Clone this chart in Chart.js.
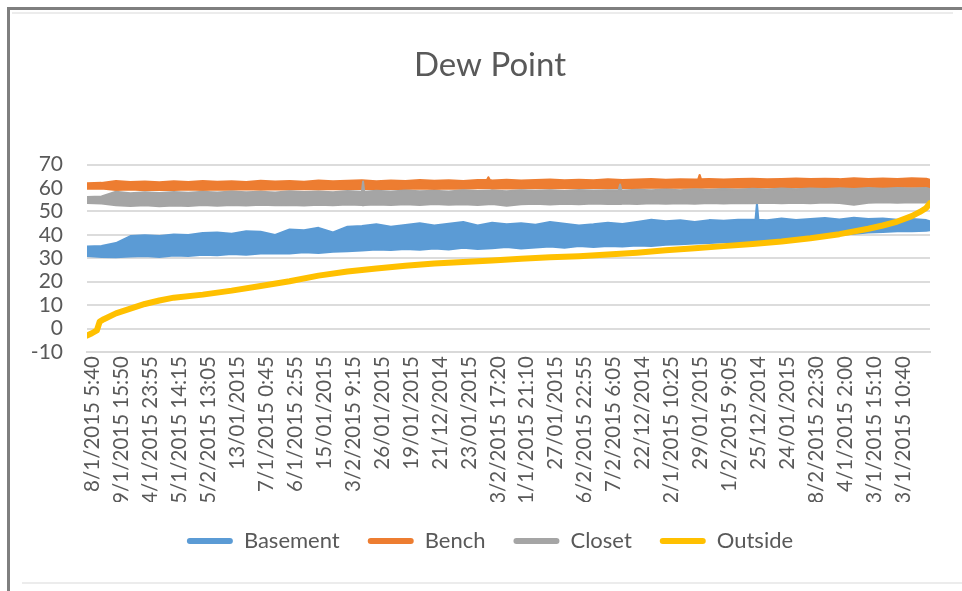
<!DOCTYPE html>
<html>
<head>
<meta charset="utf-8">
<script src="https://cdn.jsdelivr.net/npm/chart.js@4"></script>
<style>
  html, body { margin: 0; padding: 0; background: #fff; }
  canvas { display: block; }
</style>
</head>
<body>
<canvas id="dew" width="962" height="591"></canvas>
<script>
// Category labels shown under the time axis (one per label slot)
const tickLabels = [
  '8/1/2015 5:40', '9/1/2015 15:50', '4/1/2015 23:55', '5/1/2015 14:15', '5/2/2015 13:05',
  '13/01/2015', '7/1/2015 0:45', '6/1/2015 2:55', '15/01/2015', '3/2/2015 9:15',
  '26/01/2015', '19/01/2015', '21/12/2014', '23/01/2015', '3/2/2015 17:20',
  '1/1/2015 21:10', '27/01/2015', '6/2/2015 22:55', '7/2/2015 6:05', '22/12/2014',
  '2/1/2015 10:25', '29/01/2015', '1/2/2015 9:05', '25/12/2014', '24/01/2015',
  '8/2/2015 22:30', '4/1/2015 2:00', '3/1/2015 15:10', '3/1/2015 10:40'
];

// Reading positions, in label-slot units (0 = first label)
const basementPos = [-0.2, 0.3, 0.8, 1.3, 1.8, 2.3, 2.8, 3.3, 3.8, 4.3, 4.8, 5.3, 5.8, 6.3, 6.8, 7.3, 7.8, 8.3, 8.8, 9.3,
  9.8, 10.3, 10.8, 11.3, 11.8, 12.3, 12.8, 13.3, 13.8, 14.3, 14.8, 15.3, 15.8, 16.3, 16.8, 17.3, 17.8, 18.3, 18.8, 19.3,
  19.8, 20.3, 20.8, 21.3, 21.8, 22.3, 22.8, 22.9, 22.95, 23.0, 23.3, 23.8, 24.3, 24.8, 25.3, 25.8, 26.3, 26.8, 27.3, 27.8,
  28.3, 28.8, 28.93];
// Basement: upper and lower edge of the readings band
const basementHigh = [35, 35.3, 36.5, 39.5, 39.8, 39.5, 40.2, 40, 40.8, 41, 40.5, 41.5, 41.3, 40, 42.3, 42, 43, 41, 43.5, 43.8,
  44.5, 43.5, 44.2, 45, 44, 44.8, 45.5, 44, 45.2, 44.5, 45, 44.3, 45.5, 44.8, 44, 44.5, 45.2, 44.6, 45.5, 46.5,
  45.8, 46.2, 45.5, 46.3, 46, 46.5, 46.5, 46.5, 53.5, 46.5, 46.2, 47, 46.4, 46.8, 47.2, 46.6, 47.3, 46.8, 47, 46.5,
  46.8, 46.3, 45.8];
const basementLow = [31, 30.6, 30.5, 30.8, 31, 30.6, 31.2, 31, 31.5, 31.3, 31.8, 31.5, 32, 32.2, 32, 32.6, 32.3, 32.8, 33, 33.3,
  33.8, 33.5, 34, 33.6, 34.2, 33.8, 34.5, 34, 34.3, 34.8, 34.2, 34.6, 35, 34.5, 35.2, 34.8, 35.3, 35, 35.5, 35.2,
  35.8, 36, 36.3, 36.5, 36.8, 37, 37.2, 37.2, 37.2, 37.2, 37.5, 37.8, 38.3, 38.8, 39.3, 40, 40.5, 41, 41.2, 41.5,
  41.5, 41.8, 42];

const benchPos = [-0.2, 0.3, 0.8, 1.3, 1.8, 2.3, 2.8, 3.3, 3.8, 4.3, 4.8, 5.3, 5.8, 6.3, 6.8, 7.3, 7.8, 8.3, 8.8, 9.3,
  9.8, 10.3, 10.8, 11.3, 11.8, 12.3, 12.8, 13.3, 13.62, 13.67, 13.72, 13.8, 14.3, 14.8, 15.3, 15.8, 16.3, 16.8, 17.3, 17.8,
  18.3, 18.8, 19.3, 19.8, 20.3, 20.8, 20.92, 20.97, 21.02, 21.3, 21.8, 22.3, 22.8, 23.3, 23.8, 24.3, 24.8, 25.3, 25.8, 26.3,
  26.8, 27.3, 27.8, 28.3, 28.8, 28.93];
const benchHigh = [62, 62.2, 63, 62.6, 62.8, 62.5, 62.9, 62.6, 63, 62.7, 62.9, 62.6, 63.1, 62.8, 63, 62.7, 63.2, 62.9, 63.1, 63.3,
  62.9, 63.2, 63, 63.4, 63.1, 63.3, 63, 63.4, 63.4, 64.6, 63.4, 63.2, 63.5, 63.2, 63.4, 63.6, 63.3, 63.5, 63.3, 63.7,
  63.4, 63.6, 63.8, 63.5, 63.7, 63.6, 63.7, 65.6, 63.7, 63.9, 63.6, 63.8, 64, 63.7, 63.9, 64.1, 63.8, 64, 63.8, 64.2,
  63.9, 64.1, 63.9, 64.2, 64, 63.5];
const benchLow = [59.7, 59.8, 59.2, 59.4, 59.1, 59.3, 59.2, 59.4, 59.2, 59.4, 59.3, 59.5, 59.3, 59.5, 59.4, 59.6, 59.4, 59.6, 59.5, 59.7,
  59.5, 59.7, 59.6, 59.8, 59.6, 59.8, 59.7, 59.9, 59.9, 59.9, 59.9, 59.7, 59.9, 59.8, 60, 59.8, 60, 59.9, 60.1, 59.9,
  60.1, 60, 60.2, 60, 60.2, 60.1, 60.1, 60.1, 60.1, 60.3, 60.1, 60.3, 60.2, 60.4, 60.2, 60.4, 60.3, 60.5, 60.3, 60.5,
  60.4, 60.5, 60.4, 60.6, 60.4, 58];

const closetPos = [-0.2, 0.3, 0.8, 1.3, 1.8, 2.3, 2.8, 3.3, 3.8, 4.3, 4.8, 5.3, 5.8, 6.3, 6.8, 7.3, 7.8, 8.3, 8.8, 9.3,
  9.34, 9.38, 9.8, 10.3, 10.8, 11.3, 11.8, 12.3, 12.8, 13.3, 13.8, 14.3, 14.8, 15.3, 15.8, 16.3, 16.8, 17.3, 17.8, 18.17,
  18.22, 18.27, 18.3, 18.8, 19.3, 19.8, 20.3, 20.8, 21.3, 21.8, 22.3, 22.8, 23.3, 23.8, 24.3, 24.8, 25.3, 25.8, 26.3, 26.8,
  27.3, 27.8, 28.3, 28.8, 28.93];
const closetHigh = [56.2, 56.4, 58.4, 57.8, 58.2, 57.9, 58.3, 58, 58.4, 58.1, 58.5, 58.2, 58.4, 58.1, 58.6, 58.3, 58.5, 58.2, 58.7, 58.4,
  62.8, 58.4, 58.8, 58.5, 58.9, 58.6, 58.8, 58.5, 59, 58.7, 58.9, 58.6, 59.1, 58.8, 59, 58.7, 59.2, 58.9, 59.1, 59,
  61.5, 59, 58.9, 59.3, 59, 59.4, 59.1, 59.5, 59.2, 59.6, 59.3, 59.7, 59.4, 59.8, 59.5, 59.8, 59.6, 59.9, 59.6, 60,
  59.7, 60, 59.8, 60, 59.6];
const closetLow = [53.6, 53.4, 52.6, 52.3, 52.6, 52.2, 52.5, 52.3, 52.7, 52.4, 52.8, 52.5, 52.9, 52.6, 52.8, 52.5, 52.9, 52.6, 53, 52.7,
  52.7, 52.7, 53, 52.8, 53.1, 52.8, 53.2, 52.9, 53.1, 52.8, 53.2, 52.4, 53.1, 53.3, 53, 53.3, 53.1, 53.4, 53.2, 53.2,
  53.2, 53.2, 53.4, 53.2, 53.5, 53.3, 53.5, 53.3, 53.6, 53.4, 53.6, 53.5, 53.7, 53.5, 53.7, 53.5, 53.8, 53.6, 52.9, 53.7,
  53.9, 53.7, 53.9, 53.8, 54];

const outsidePos = [-0.2, -0.03, 0.14, 0.24, 0.38, 0.8, 1.3, 1.8, 2.3, 2.8, 3.8, 4.8, 5.8, 6.8, 7.8, 8.8, 9.8, 10.8, 11.8, 12.8,
  13.8, 14.8, 15.8, 16.8, 17.8, 18.8, 19.8, 20.8, 21.8, 22.8, 23.8, 24.8, 25.8, 26.8, 27.3, 27.8, 28.3, 28.58, 28.8, 28.93];
const outsideVals = [-3, -2, -0.8, 3, 4, 6.5, 8.5, 10.5, 12, 13.2, 14.5, 16.2, 18.2, 20.2, 22.6, 24.4, 25.6, 26.8, 27.8, 28.4,
  29.1, 29.8, 30.4, 30.9, 31.6, 32.4, 33.4, 34.3, 35.2, 36.1, 37.2, 38.6, 40.3, 42.6, 44, 45.7, 48, 49.8, 51.5, 53.5];

const seriesNames = ['Basement', 'Bench', 'Closet', 'Outside'];
const seriesColors = ['#5B9BD5', '#ED7D31', '#A5A5A5', '#FFC000'];

const TEXT = '#595959';
const FONT = 'Lato, "Open Sans", sans-serif';

const pts = (xs, ys) => xs.map((x, i) => ({ x, y: ys[i] }));

function band(name, color, xs, hi, lo, order) {
  return [
    { label: name, data: pts(xs, hi), borderColor: color, backgroundColor: color,
      borderWidth: 2, fill: '+1', order },
    { label: name + ' low', data: pts(xs, lo), borderColor: color, backgroundColor: color,
      borderWidth: 2, fill: false, order }
  ];
}

// Page frame around the chart
const framePlugin = {
  id: 'frame',
  beforeDraw(chart) {
    const c = chart.ctx;
    c.save();
    c.fillStyle = '#ffffff';
    c.fillRect(0, 0, chart.width, chart.height);
    c.fillStyle = '#7f7f7f';
    c.fillRect(7, 7, chart.width - 7, 3);
    c.fillRect(7, 7, 3, chart.height - 7);
    c.fillStyle = '#ececec';
    c.fillRect(12, 12, 941, 2);
    c.fillRect(22, 582, chart.width - 22, 2);
    c.restore();
  }
};

new Chart(document.getElementById('dew'), {
  type: 'line',
  data: {
    datasets: [
      ...band(seriesNames[0], seriesColors[0], basementPos, basementHigh, basementLow, 4),
      ...band(seriesNames[1], seriesColors[1], benchPos, benchHigh, benchLow, 3),
      ...band(seriesNames[2], seriesColors[2], closetPos, closetHigh, closetLow, 2),
      { label: seriesNames[3], data: pts(outsidePos, outsideVals), borderColor: seriesColors[3],
        backgroundColor: seriesColors[3], borderWidth: 6, fill: false, order: 1 }
    ]
  },
  options: {
    responsive: false,
    animation: false,
    events: [],
    elements: {
      point: { radius: 0 },
      line: { tension: 0, borderCapStyle: 'round', borderJoinStyle: 'round' }
    },
    layout: { padding: { left: 18, right: 0, top: 0, bottom: 29 } },
    scales: {
      x: {
        type: 'linear',
        min: -0.2,
        max: 28.93,
        grid: { display: false, drawTicks: false },
        border: { display: true, color: '#d9d9d9', width: 2 },
        afterBuildTicks: (scale) => { scale.ticks = tickLabels.map((_, i) => ({ value: i })); },
        afterFit: (scale) => { scale.height = 150; },
        ticks: {
          autoSkip: false,
          minRotation: 90,
          maxRotation: 90,
          padding: 4,
          color: TEXT,
          font: { family: FONT, size: 20.5 },
          callback: (v) => tickLabels[Math.round(v)] ?? ''
        }
      },
      y: {
        min: -10,
        max: 70,
        grid: { color: '#dcdcdc', lineWidth: 2, drawTicks: false },
        border: { display: false },
        afterFit: (scale) => { scale.width = 69; },
        ticks: { stepSize: 10, autoSkip: false, padding: 24, color: TEXT, font: { family: FONT, size: 21 } }
      },
      // empty strip on the right of the plot
      yRight: {
        position: 'right',
        min: 0,
        max: 1,
        grid: { display: false, drawTicks: false },
        border: { display: false },
        ticks: { display: false },
        afterFit: (scale) => { scale.width = 32; }
      }
    },
    plugins: {
      tooltip: { enabled: false },
      title: {
        display: true,
        text: 'Dew Point',
        color: TEXT,
        font: { family: FONT, size: 33, weight: 'normal' },
        padding: { top: 46, bottom: 79 }
      },
      legend: {
        position: 'bottom',
        labels: {
          color: TEXT,
          font: { family: FONT, size: 22 },
          boxWidth: 46,
          boxHeight: 6,
          padding: 28,
          generateLabels: () => seriesNames.map((text, i) => ({
            text,
            fillStyle: seriesColors[i],
            strokeStyle: seriesColors[i],
            lineWidth: 0,
            borderRadius: 3,
            fontColor: TEXT,
            hidden: false,
            datasetIndex: i === 3 ? 6 : i * 2
          }))
        }
      }
    }
  },
  plugins: [framePlugin]
});
</script>
</body>
</html>
